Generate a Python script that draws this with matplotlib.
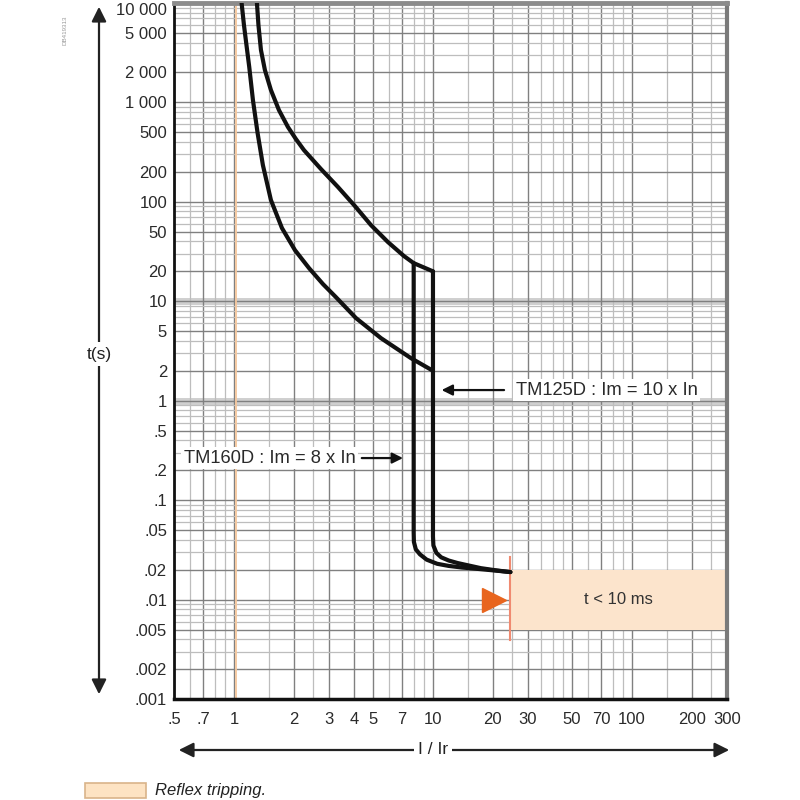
import matplotlib
matplotlib.use("Agg")
import matplotlib.pyplot as plt
from matplotlib.patches import Rectangle, FancyArrowPatch

plt.rcParams['font.family'] = ['Liberation Sans', 'DejaVu Sans']

# ---------------- data ----------------
# upper (slow) thermal curve, ends on TM160D line then joins TM125D line
upper_x = [1.305, 1.328, 1.367, 1.431, 1.534, 1.683, 1.868, 2.049, 2.247, 2.737, 3.332, 4.055,
           4.88, 5.94, 7.15, 8.0, 10.0]
upper_y = [10000, 6008, 3367, 2118, 1333, 838, 566, 428, 332, 213.8, 141, 90.7,
           58.4, 39.4, 28.5, 24.2, 20.0]

# lower (fast) thermal curve
lower_x = [1.093, 1.123, 1.156, 1.194, 1.246, 1.315, 1.398, 1.534, 1.743, 2.026, 2.382, 2.801,
           3.255, 4.103, 5.48, 7.751, 10.0]
lower_y = [10000, 6008, 3780, 2270, 1057, 492, 234.5, 104.3, 54.5, 32.7, 21.6, 14.9,
           11.0, 6.78, 4.26, 2.68, 2.0]

# TM160D magnetic drop (Im = 8 x In)
tm160_x = [8.0, 8.0, 8.02, 8.2, 8.6, 9.3, 10.5, 12.0, 14.0, 17.0, 21.0, 24.5]
tm160_y = [24.2, 0.047, 0.038, 0.032, 0.0285, 0.0252, 0.0229, 0.0218, 0.021, 0.0203, 0.0195, 0.0189]

# TM125D magnetic drop (Im = 10 x In)
tm125_x = [10.0, 10.0, 10.05, 10.4, 11.0, 12.0, 13.3, 15.3, 17.4, 21.0, 24.5]
tm125_y = [20.0, 0.043, 0.035, 0.0295, 0.0266, 0.0247, 0.0233, 0.0219, 0.0207, 0.0196, 0.0189]

# reflex tripping zone
reflex_x = [24.5, 300]
reflex_y = [0.005, 0.02]

x_major = [0.5, 0.7, 1, 2, 3, 4, 5, 7, 10, 20, 30, 50, 70, 100, 200, 300]
x_major_labels = ['.5', '.7', '1', '2', '3', '4', '5', '7', '10', '20', '30', '50', '70', '100', '200', '300']
x_minor = [0.6, 0.8, 0.9, 1.5, 2.5, 6, 8, 9, 15, 25, 35, 40, 45, 60, 80, 90, 150, 250]

y_major = [0.001, 0.002, 0.005, 0.01, 0.02, 0.05, 0.1, 0.2, 0.5, 1, 2, 5, 10, 20, 50, 100, 200, 500,
           1000, 2000, 5000, 10000]
y_major_labels = ['.001', '.002', '.005', '.01', '.02', '.05', '.1', '.2', '.5', '1', '2', '5', '10', '20',
                  '50', '100', '200', '500', '1 000', '2 000', '5 000', '10 000']
y_minor = [m * 10.0 ** e for e in range(-3, 4) for m in (3, 4, 6, 7, 8, 9)]

# ---------------- figure ----------------
fig = plt.figure(figsize=(8, 8), dpi=100)
ax = fig.add_axes([0.2175, 0.12625, 0.69125, 0.8700])
ax.set_xscale('log')
ax.set_yscale('log')
ax.set_xlim(0.5, 300)
ax.set_ylim(0.001, 10000)

ax.set_xticks(x_major)
ax.set_xticklabels(x_major_labels)
ax.set_xticks(x_minor, minor=True)
ax.set_xticklabels([], minor=True)
ax.set_yticks(y_major)
ax.set_yticklabels(y_major_labels)
ax.set_yticks(y_minor, minor=True)
ax.set_yticklabels([], minor=True)

ax.tick_params(which='both', length=0)
ax.tick_params(axis='x', pad=9, labelsize=12, labelcolor='#2a2a2a')
ax.tick_params(axis='y', pad=5, labelsize=12, labelcolor='#2a2a2a')
# top label sits just under the frame, as in the original
ax.get_yticklabels()[-1].set_va('top')

ax.grid(which='major', color='#808080', lw=1.0)
ax.grid(which='minor', color='#bdbdbd', lw=0.9)
ax.set_axisbelow(True)

# light bands at 10 s and 1 s
for yb in (10, 1):
    ax.axhline(yb, color='#cfcfcf', lw=5, zorder=0.5)

ax.spines['left'].set_color('#111111')
ax.spines['left'].set_linewidth(2)
ax.spines['bottom'].set_color('#111111')
ax.spines['bottom'].set_linewidth(2.5)
ax.spines['top'].set_color('#8c8c8c')
ax.spines['top'].set_linewidth(3.5)
ax.spines['right'].set_color('#7a7a7a')
ax.spines['right'].set_linewidth(3)

# orange Ir line
ax.axvline(1.02, color='#f6c79c', lw=1.3, zorder=1)

# reflex zone
ax.add_patch(Rectangle((reflex_x[0], reflex_y[0]), reflex_x[1] - reflex_x[0], reflex_y[1] - reflex_y[0],
                       facecolor='#fce4cc', edgecolor='none', zorder=2))
ax.plot([reflex_x[0], reflex_x[0]], [0.0039, 0.027], color='#f08a70', lw=1.5, zorder=3)
ax.plot([20.3], [0.0099], marker='>', ms=17, color='#e8651e', mec='#e8651e', zorder=3, linestyle='none')
ax.text((reflex_x[0] * reflex_x[1]) ** 0.5, (reflex_y[0] * reflex_y[1]) ** 0.5, 't < 10 ms',
        ha='center', va='center', fontsize=12, color='#333333', zorder=4)

# curves
lw = 3.0
for xs, ys in ((upper_x, upper_y), (lower_x, lower_y), (tm160_x, tm160_y), (tm125_x, tm125_y)):
    ax.plot(xs, ys, color='#111111', lw=lw, solid_joinstyle='round', solid_capstyle='round', zorder=5)

# annotations
ax.annotate('', xy=(10.7, 1.28), xytext=(23.5, 1.28),
            arrowprops=dict(arrowstyle='-|>', color='#111111', lw=1.6, mutation_scale=16), zorder=6)
ax.text(26.0, 1.28, 'TM125D : Im = 10 x In', ha='left', va='center', fontsize=13.2, color='#2a2a2a',
        bbox=dict(facecolor='white', edgecolor='none', pad=2), zorder=6)

ax.text(0.56, 0.265, 'TM160D : Im = 8 x In', ha='left', va='center', fontsize=13.2, color='#2a2a2a',
        bbox=dict(facecolor='white', edgecolor='none', pad=2), zorder=6)
ax.annotate('', xy=(7.3, 0.265), xytext=(4.25, 0.265),
            arrowprops=dict(arrowstyle='-|>', color='#111111', lw=1.6, mutation_scale=16), zorder=6)

# ---------------- outer axis arrows (figure pixels -> fraction) ----------------
def fx(px):
    return px / 800.0

def fy(py):
    return (800.0 - py) / 800.0

yarrow = FancyArrowPatch((fx(99), fy(697)), (fx(99), fy(4)), transform=fig.transFigure,
                         arrowstyle='<|-|>', mutation_scale=22, lw=1.6, color='#222222')
fig.add_artist(yarrow)
fig.text(fx(99), fy(354), 't(s)', ha='center', va='center', fontsize=12.5, color='#222222',
         bbox=dict(facecolor='white', edgecolor='none', pad=3))

xarrow = FancyArrowPatch((fx(176), fy(750)), (fx(732), fy(750)), transform=fig.transFigure,
                         arrowstyle='<|-|>', mutation_scale=22, lw=1.6, color='#222222')
fig.add_artist(xarrow)
fig.text(fx(433), fy(750), 'I / Ir', ha='center', va='center', fontsize=12.5, color='#222222',
         bbox=dict(facecolor='white', edgecolor='none', pad=3))

# legend
fig.add_artist(Rectangle((fx(85), fy(798)), fx(146) - fx(85), fy(783) - fy(798), transform=fig.transFigure,
                         facecolor='#fde3c3', edgecolor='#d9b48a', lw=1.2))
fig.text(fx(155), fy(790), 'Reflex tripping.', ha='left', va='center', fontsize=12, style='italic',
         color='#222222')

# small reference code
fig.text(fx(65), fy(30), 'DB419313', rotation=90, ha='center', va='center', fontsize=4.5, color='#999999')

fig.savefig('out.png', dpi=100)
